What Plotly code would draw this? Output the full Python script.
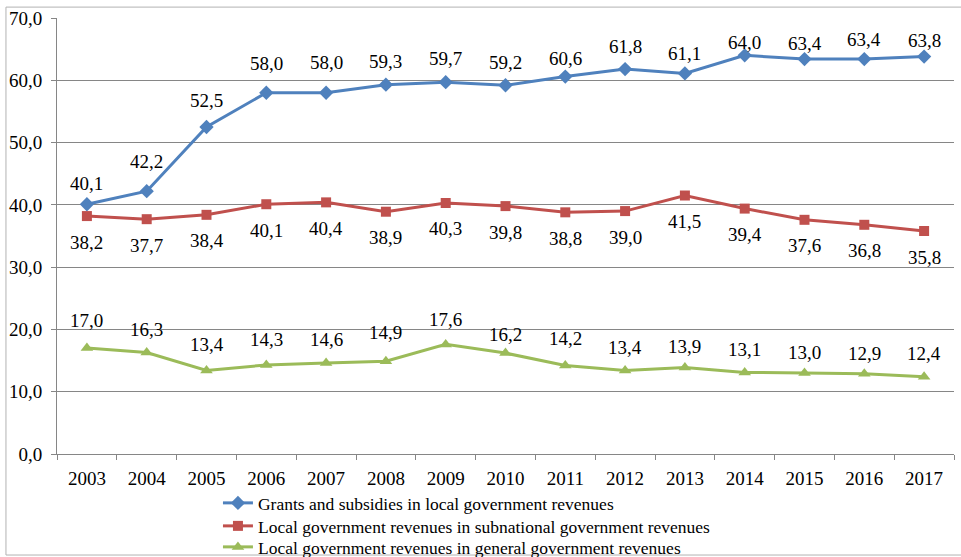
import plotly.graph_objects as go

years = [str(y) for y in range(2003, 2018)]

grants = [40.1, 42.2, 52.5, 58.0, 58.0, 59.3, 59.7, 59.2, 60.6, 61.8, 61.1, 64.0, 63.4, 63.4, 63.8]
local_in_subnational = [38.2, 37.7, 38.4, 40.1, 40.4, 38.9, 40.3, 39.8, 38.8, 39.0, 41.5, 39.4, 37.6, 36.8, 35.8]
local_in_general = [17.0, 16.3, 13.4, 14.3, 14.6, 14.9, 17.6, 16.2, 14.2, 13.4, 13.9, 13.1, 13.0, 12.9, 12.4]

series_names = [
    "Grants and subsidies in local government revenues",
    "Local government revenues in subnational government revenues",
    "Local government revenues in general government revenues",
]

# label placement (pixels, positive = upward) for each point's value label
grants_label_shift = [21, 30, 27, 29, 30, 23, 24, 23, 18, 23, 20, 13, 16, 20, 16]
subnational_label_shift = [-26] * 15
general_label_shift = [28, 23, 26, 25, 24, 29, 25, 19, 27, 23, 21, 23, 21, 20, 23]

FONT = "Liberation Serif"
BLUE, RED, GREEN = "#4F81BD", "#C0504D", "#9BBB59"

fig = go.Figure()
specs = [
    (grants, series_names[0], BLUE, "diamond", 11, grants_label_shift, "legend"),
    (local_in_subnational, series_names[1], RED, "square", 10, subnational_label_shift, "legend2"),
    (local_in_general, series_names[2], GREEN, "triangle-up", 11, general_label_shift, "legend3"),
]

for values, name, color, symbol, msize, shifts, leg in specs:
    fig.add_trace(go.Scatter(
        x=years, y=values, name=name, mode="lines+markers",
        line=dict(color=color, width=3),
        marker=dict(symbol=symbol, size=msize, color=color),
        legend=leg,
    ))
    # value labels, placed by category index
    for i, (v, s) in enumerate(zip(values, shifts)):
        fig.add_annotation(
            x=i, y=v, xref="x", yref="y",
            text=f"{v:.1f}".replace(".", ","),
            showarrow=False, yshift=s,
            font=dict(family=FONT, size=19, color="black"),
        )

# outer chart frame
fig.add_shape(type="rect", xref="paper", yref="paper",
              x0=-0.0569, x1=1.009, y0=-0.2317, y1=1.025,
              line=dict(color="#b3b3b3", width=1),
              layer="below")

legend_style = dict(
    xref="container", yref="container", x=0.2268, xanchor="left", yanchor="middle",
    orientation="v", bgcolor="rgba(0,0,0,0)",
    font=dict(family=FONT, size=17.5, color="black"),
)

fig.update_layout(
    width=961, height=557,
    margin=dict(l=57, r=7, t=18, b=103, autoexpand=False),
    paper_bgcolor="white", plot_bgcolor="white",
    separators=", ",
    font=dict(family=FONT, size=19, color="black"),
    showlegend=True,
    legend=dict(y=1 - 503 / 557, **legend_style),
    legend2=dict(y=1 - 526 / 557, **legend_style),
    legend3=dict(y=1 - 547 / 557, **legend_style),
)

fig.update_xaxes(
    type="category", tickson="boundaries", ticks="outside", ticklen=5,
    tickcolor="#868686", showline=True, linecolor="#868686", linewidth=1,
    showgrid=False, range=[-0.5, 14.5], ticklabelstandoff=7,
    tickfont=dict(family=FONT, size=19, color="black"),
)
fig.update_yaxes(
    range=[0, 70], dtick=10, tickformat=".1f",
    ticks="outside", ticklen=5, tickcolor="#868686",
    showline=True, linecolor="#868686", linewidth=1,
    showgrid=True, gridcolor="#868686", gridwidth=1,
    zeroline=False, ticklabelstandoff=5,
    tickfont=dict(family=FONT, size=19, color="black"),
)

fig.write_html("out.html")
